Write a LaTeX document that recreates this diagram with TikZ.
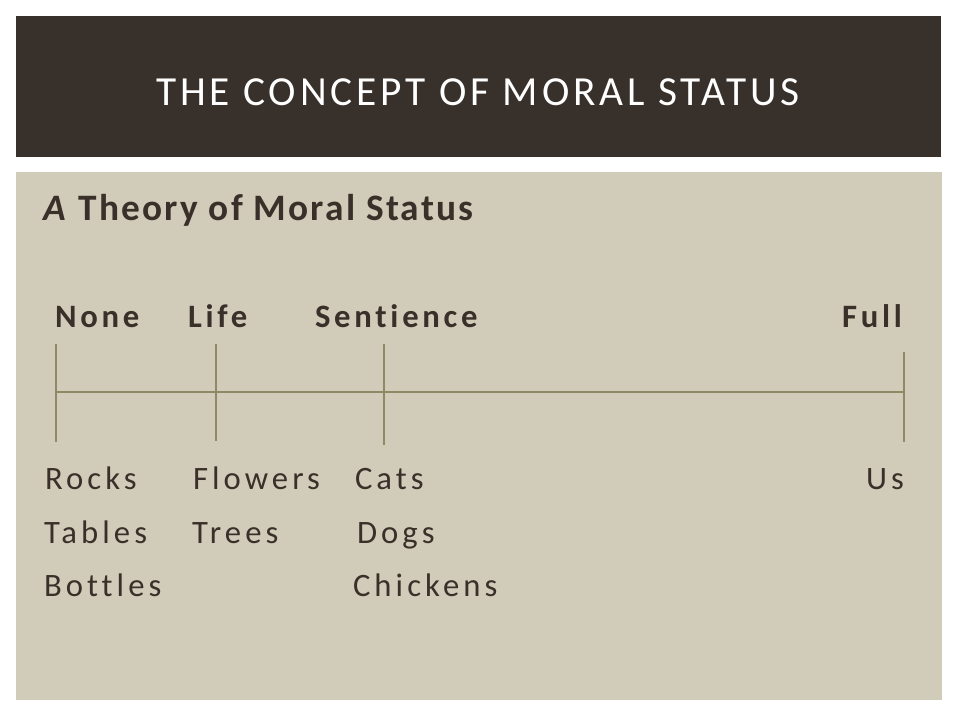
\documentclass[tikz,border=0pt]{standalone}
\usepackage{fontspec}
\setmainfont{Carlito}[Ligatures={NoCommon}]
\definecolor{titlebg}{HTML}{38302B}
\definecolor{panelbg}{HTML}{D1CCB9}
\definecolor{ink}{HTML}{3A302A}
\definecolor{rule}{HTML}{8E8A66}
\begin{document}
\begin{tikzpicture}[x=0.75pt,y=-0.75pt,
  txt/.style={inner sep=0pt,outer sep=0pt,text=ink},
  lbl/.style={txt,anchor=base west,font=\fontsize{24.5}{28}\selectfont\addfontfeatures{LetterSpace=11.5}\bfseries},
  item/.style={txt,anchor=base west,font=\fontsize{24.5}{28}\selectfont\addfontfeatures{LetterSpace=12.5}},
  tick/.style={draw=rule,line width=0.9pt}]
\useasboundingbox (0,0) rectangle (960,720);
\fill[white] (0,0) rectangle (960,720);
\fill[titlebg] (16,16) rectangle (941,157);
\fill[panelbg] (16,172) rectangle (942,700);
\node[txt,text=white,anchor=base,font=\fontsize{31}{34}\selectfont\addfontfeatures{LetterSpace=9.5}] (title) at (478,106) {THE CONCEPT OF MORAL STATUS};
\node[txt,anchor=base west,font=\fontsize{28}{32}\selectfont\addfontfeatures{LetterSpace=6}\bfseries] (head) at (43,221) {\textit{A} Theory of Moral Status};
\node[lbl] (none) at (55,327) {None};
\node[lbl] (life) at (188,327) {Life};
\node[lbl] (sent) at (315,327) {Sentience};
\node[lbl,anchor=base east] (full) at (902,327) {Full};
\coordinate (n1) at (56,344); \coordinate (n2) at (56,442);
\coordinate (l1) at (216,344); \coordinate (l2) at (216,441);
\coordinate (s1) at (384,344); \coordinate (s2) at (384,445);
\coordinate (f1) at (904,352); \coordinate (f2) at (904,442);
\coordinate (a) at (56,392); \coordinate (b) at (904,392);
\draw[tick] (n1) -- (n2);
\draw[tick] (l1) -- (l2);
\draw[tick] (s1) -- (s2);
\draw[tick] (f1) -- (f2);
\draw[tick] (a) -- (b);
\node[item] (rocks) at (45,489) {Rocks};
\node[item] (flowers) at (193,489) {Flowers};
\node[item] (cats) at (355,489) {Cats};
\node[item,anchor=base east] (us) at (904,489) {Us};
\node[item] (tables) at (44,543) {Tables};
\node[item] (trees) at (192,543) {Trees};
\node[item] (dogs) at (357,543) {Dogs};
\node[item] (bottles) at (44,596) {Bottles};
\node[item] (chickens) at (353,596) {Chickens};
\end{tikzpicture}
\end{document}
